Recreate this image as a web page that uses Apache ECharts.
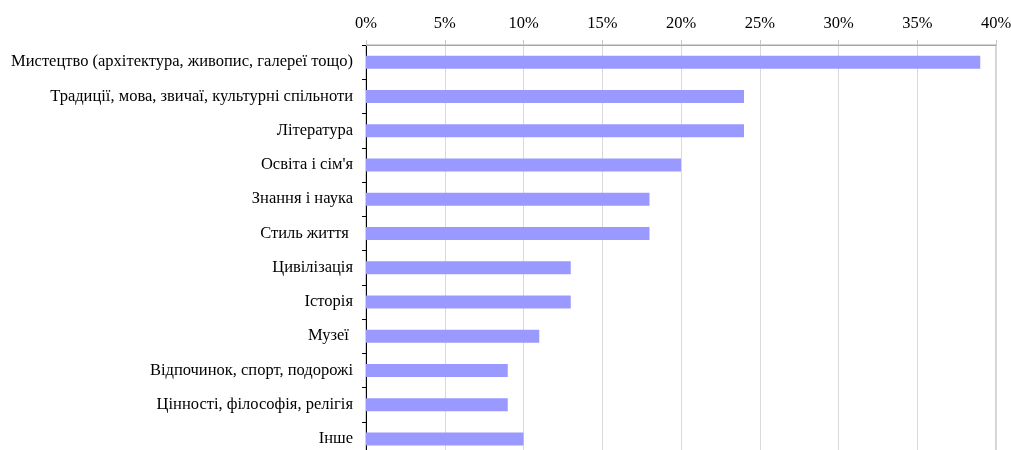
<!DOCTYPE html>
<html>
<head>
<meta charset="utf-8">
<script src="https://cdn.jsdelivr.net/npm/echarts@6/dist/echarts.min.js"></script>
<style>
  html, body { margin: 0; padding: 0; background: #fff; }
  #chart { width: 1011px; height: 450px; }
</style>
</head>
<body>
<div id="chart"></div>
<script>
// Survey answers, share of respondents (%)
const categories = [
  'Мистецтво (архітектура, живопис, галереї тощо)',
  'Традиції, мова, звичаї, культурні спільноти',
  'Література',
  'Освіта і сім\'я',
  'Знання і наука',
  'Стиль життя ',
  'Цивілізація',
  'Історія',
  'Музеї ',
  'Відпочинок, спорт, подорожі',
  'Цінності, філософія, релігія',
  'Інше'
];
const shares = [39, 24, 24, 20, 18, 18, 13, 13, 11, 9, 9, 10];
const axisMin = 0;
const axisMax = 40;
const axisStep = 5;

const chart = echarts.init(document.getElementById('chart'), null, { renderer: 'canvas' });
const font = '"Liberation Serif", "Times New Roman", serif';

chart.setOption({
  animation: false,
  backgroundColor: '#ffffff',
  grid: {
    left: 366, width: 630, top: 45, height: 411,
    outerBoundsMode: 'none',
    containLabel: false,
    show: true, borderColor: '#a6a6a6', borderWidth: 1, backgroundColor: 'transparent'
  },
  xAxis: {
    type: 'value',
    position: 'top',
    min: axisMin, max: axisMax, interval: axisStep,
    axisLine: { show: true, lineStyle: { color: '#a6a6a6', width: 1 } },
    axisTick: { show: true, length: 5, lineStyle: { color: '#c8c8c8' } },
    axisLabel: {
      formatter: v => v + '%',
      color: '#000', fontFamily: font, fontSize: 16.5, margin: 13
    },
    splitLine: { show: true, lineStyle: { color: '#d9d9d9', width: 1 } }
  },
  yAxis: {
    type: 'category',
    data: categories,
    inverse: true,
    axisLine: { show: true, lineStyle: { color: '#000', width: 1 } },
    axisTick: { show: true, length: 4, lineStyle: { color: '#000' } },
    axisLabel: { color: '#000', fontFamily: font, fontSize: 16.5, margin: 13 }
  },
  series: [{
    type: 'bar',
    data: shares,
    barWidth: 13,
    itemStyle: { color: '#9999ff' },
    silent: true
  }]
});
</script>
</body>
</html>
